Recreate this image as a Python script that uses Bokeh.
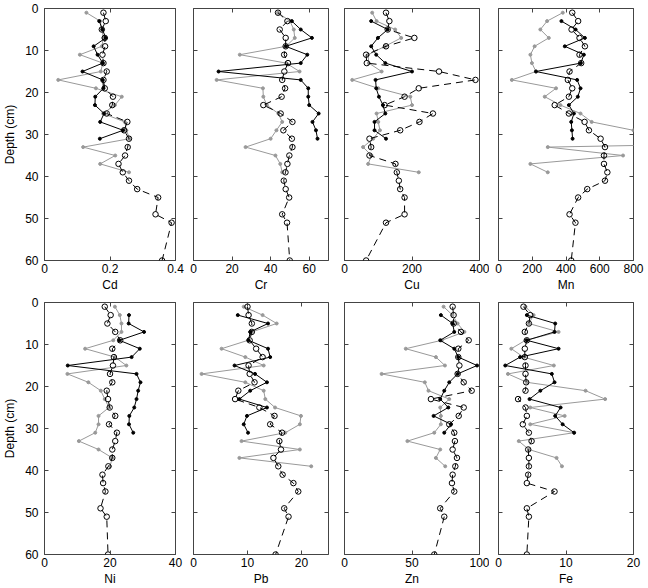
from bokeh.plotting import figure
from bokeh.layouts import gridplot
from bokeh.models import Range1d, FixedTicker, LinearAxis
from bokeh.embed import file_html
from bokeh.resources import INLINE

# ---------------- data ----------------
dash_depth = [1, 3, 5, 7, 9, 11, 13, 15, 17, 19, 21, 23, 25, 27, 29, 31, 33, 35, 37, 39, 41, 43, 45, 49, 51, 60]
black_depth = [3, 5, 7, 9, 11, 13, 15, 17, 19, 21, 23, 25, 27, 29, 31]
gray_depth = [1, 3, 5, 7, 9, 11, 13, 15, 17, 19, 21, 23, 25, 27, 29, 31, 33, 35, 37, 39]

elements = ["Cd", "Cr", "Cu", "Mn", "Ni", "Pb", "Zn", "Fe"]
x_max = [0.4, 70, 400, 800, 40, 25, 100, 20]
x_ticks = [[0, 0.2, 0.4], [0, 20, 40, 60], [0, 200, 400], [0, 200, 400, 600, 800],
           [0, 20, 40], [0, 10, 20], [0, 50, 100], [0, 10, 20]]
depth_ticks = [0, 10, 20, 30, 40, 50, 60]

cd_dash = [0.18, 0.187, 0.175, 0.184, 0.185, 0.177, 0.18, 0.19, 0.18, 0.184, 0.209, 0.207, 0.19, 0.253, 0.243, 0.258, 0.254, 0.246, 0.226, 0.239, 0.258, 0.283, 0.347, 0.339, 0.388, 0.359]
cd_gray = [0.128, 0.17, 0.175, 0.18, 0.175, 0.108, 0.178, 0.172, 0.042, 0.157, 0.236, 0.215, 0.179, 0.245, 0.25, 0.26, 0.118, 0.216, 0.17, 0.258]
cd_black = [0.167, 0.177, 0.187, 0.15, 0.162, 0.178, 0.116, 0.178, 0.18, 0.155, 0.154, 0.182, 0.17, 0.24, 0.169]

cr_dash = [43.8, 48.7, 44.7, 47.8, 47.8, 47, 49, 47.1, 46, 47.5, 45.7, 36.2, 45.2, 51.3, 46.6, 51, 51.3, 49.7, 48.7, 47.7, 46.8, 47.8, 49.6, 46, 48.5, 49.9]
cr_gray = [43.8, 50, 52, 52.5, 48, 24, 48, 55, 12, 36, 36.2, 38, 44, 46, 43, 40, 27, 42.5, 45, 46]
cr_black = [51, 55.6, 61.4, 47.8, 59, 55.6, 13, 55.6, 59.5, 59.5, 60, 64.9, 61.7, 63.5, 64.3]

cu_dash = [123, 133, 128, 207, 123, 64, 66, 280, 388, 220, 178, 119, 262, 222, 165, 74, 79, 74, 151, 155, 161, 165, 178, 178, 123, 64]
cu_gray = [82, 95, 150, 168, 120, 70, 72, 110, 23, 100, 195, 200, 95, 100, 105, 85, 55, 80, 70, 220]
cu_black = [79, 128, 99, 79, 94, 121, 200, 92, 94, 102, 114, 121, 89, 89, 123]

mn_dash = [437, 472, 433, 480, 512, 480, 490, 421, 411, 437, 417, 333, 417, 510, 536, 605, 631, 625, 625, 645, 631, 526, 472, 421, 456, 431]
mn_gray = [381, 288, 248, 298, 214, 189, 198, 222, 79, 341, 274, 367, 486, 552, 800, 3000, 292, 738, 189, 292]
mn_black = [373, 457, 512, 393, 506, 488, 222, 466, 486, 470, 417, 447, 431, 435, 439]

ni_dash = [18.4, 20.2, 19.2, 21.6, 23.1, 20.7, 21.2, 20.9, 20, 20.7, 19, 19.4, 19.9, 21.6, 19.7, 22.1, 21.6, 20.7, 20.7, 19.5, 17.7, 17.9, 18.6, 17.1, 19, 19.4]
ni_gray = [21.5, 23, 23.5, 23.5, 21, 12.4, 21.5, 25, 7, 13.4, 17.2, 18.4, 19.7, 16.5, 16.5, 15.5, 10.5, 16.5, 20.7, 20]
ni_black = [25.8, 25.7, 30.4, 22.9, 29.1, 26.6, 7.1, 28.1, 29.3, 28.6, 28.1, 27.4, 25.9, 25.8, 27.1]

pb_dash = [10, 10.2, 10.8, 10.8, 10.4, 11.6, 12.8, 10.2, 10.4, 11.3, 8.3, 7.7, 12.2, 15, 14.2, 16.4, 15.9, 16.2, 14.8, 15.7, 16.5, 18.5, 19.4, 16.8, 17.6, 15.2]
pb_gray = [9.3, 12.8, 15.4, 10.8, 10.1, 5.2, 9.6, 13, 1.5, 9.6, 13, 13.3, 15.1, 19.9, 19.7, 17, 8.9, 19.7, 8.5, 21.8]
pb_black = [8.2, 13.8, 10.5, 10.2, 13.8, 14.2, 7.6, 11.4, 13.6, 10.5, 8.5, 13.6, 9.9, 9.3, 10.1]

zn_dash = [80.1, 80.8, 80.8, 86.3, 92, 84.3, 84.3, 85.1, 83.8, 88.3, 94.2, 64, 88.3, 84.6, 77.6, 81.3, 81.8, 80.1, 83.3, 82.1, 80.1, 79.6, 81.3, 70.9, 73.9, 66.5]
zn_gray = [73.4, 80, 83.8, 88.8, 72, 45.4, 67.7, 74.4, 27.5, 59.5, 62.2, 77.6, 70.9, 71.4, 71.4, 66.5, 46.6, 70.9, 67.7, 74.6]
zn_black = [71.4, 80.1, 81.3, 70.9, 81.3, 84.3, 98.2, 83.8, 77.6, 73.9, 70.9, 76.9, 66, 78.9, 73.9]

fe_dash = [3.7, 4.7, 4.5, 3.9, 4.2, 3.9, 3.9, 4, 4, 4.1, 4, 2.9, 4, 4.2, 3.6, 4.5, 4.9, 4.4, 4.5, 4.5, 4.4, 4.2, 8.3, 4.2, 4.5, 4.2]
fe_gray = [4, 5.2, 4.5, 8.9, 4, 1.9, 3.7, 8.2, 1.4, 4.2, 12.9, 15.8, 4.7, 9.8, 4.7, 11.2, 3, 4.5, 8.6, 9.4]
fe_black = [4.2, 8.4, 8.3, 4.2, 8.9, 3.2, 1, 7.9, 8.3, 6.2, 4.6, 9.2, 8.4, 9.5, 11.2]

dash_series = [cd_dash, cr_dash, cu_dash, mn_dash, ni_dash, pb_dash, zn_dash, fe_dash]
gray_series = [cd_gray, cr_gray, cu_gray, mn_gray, ni_gray, pb_gray, zn_gray, fe_gray]
black_series = [cd_black, cr_black, cu_black, mn_black, ni_black, pb_black, zn_black, fe_black]

# ---------------- style ----------------
FONT = "Liberation Sans"
GRAY = "#999999"
FRAME = "#444444"
FRAME_W = 135
FRAME_H = 253
COL_BORDERS = [(40, 9), (9, 8), (8, 10), (9, 15)]   # (left, right) per column
ROW_BORDERS = [(8, 33), (8, 33)]                    # (top, bottom) per row


def style_axis(ax, ticks, show_labels, standoff):
    ax.ticker = FixedTicker(ticks=ticks)
    ax.major_tick_in = 4
    ax.major_tick_out = 0
    ax.minor_tick_line_color = None
    ax.axis_line_color = None
    ax.major_tick_line_color = FRAME
    ax.major_label_text_font = FONT
    ax.major_label_standoff = standoff
    if show_labels:
        ax.major_label_text_font_size = "12px"
        ax.major_label_text_color = "black"
    else:
        ax.major_label_text_font_size = "1px"
        ax.major_label_text_color = None
        ax.major_label_standoff = 0
    ax.axis_label_text_font = FONT
    ax.axis_label_text_font_size = "12px"
    ax.axis_label_text_font_style = "normal"
    ax.axis_label_text_color = "black"


def make_panel(i, col, row):
    left, right = COL_BORDERS[col]
    top, bottom = ROW_BORDERS[row]
    p = figure(width=left + FRAME_W + right, height=top + FRAME_H + bottom,
               x_range=Range1d(0, x_max[i]), y_range=Range1d(60, 0),
               output_backend="svg", toolbar_location=None,
               min_border_left=left, min_border_right=right,
               min_border_top=top, min_border_bottom=bottom)
    p.grid.visible = False
    p.outline_line_color = FRAME
    p.outline_line_width = 1
    p.background_fill_color = "white"
    p.border_fill_color = "white"

    xa = p.xaxis[0]
    style_axis(xa, x_ticks[i], True, 3)
    xa.axis_label = elements[i]
    xa.axis_label_standoff = 2
    if x_max[i] == 0.4:
        xa.major_label_overrides = {0: "0", 0.2: "0.2", 0.4: "0.4"}
    ya = p.yaxis[0]
    style_axis(ya, depth_ticks, col == 0, 6)
    if col == 0:
        ya.axis_label = "Depth (cm)"
        ya.axis_label_standoff = 5

    top_ax = LinearAxis()
    style_axis(top_ax, x_ticks[i], False, 0)
    p.add_layout(top_ax, "above")
    right_ax = LinearAxis()
    style_axis(right_ax, depth_ticks, False, 0)
    p.add_layout(right_ax, "right")

    p.line(gray_series[i], gray_depth, line_color=GRAY, line_width=1)
    p.scatter(gray_series[i], gray_depth, size=3, color=GRAY)
    p.line(black_series[i], black_depth, line_color="black", line_width=1)
    p.scatter(black_series[i], black_depth, size=3, color="black")
    p.line(dash_series[i], dash_depth, line_color="black", line_width=1, line_dash="7 5")
    p.scatter(dash_series[i], dash_depth, marker="circle", size=5.5,
              fill_color=None, line_color="black", line_width=1)
    return p


panels = [make_panel(i, i % 4, i // 4) for i in range(8)]
grid = gridplot([panels[0:4], panels[4:8]], toolbar_location=None)

open("out.html", "w").write(file_html(grid, INLINE))
